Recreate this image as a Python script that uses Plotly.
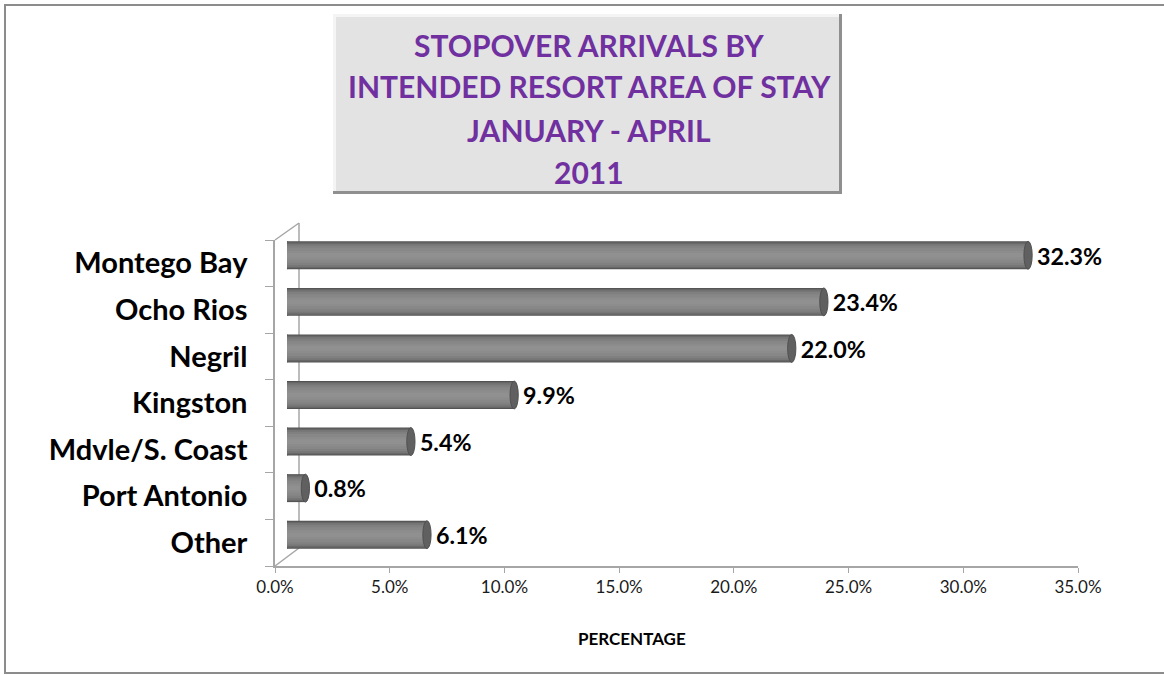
import plotly.graph_objects as go

categories = ["Montego Bay", "Ocho Rios", "Negril", "Kingston", "Mdvle/S. Coast", "Port Antonio", "Other"]
values = [32.3, 23.4, 22.0, 9.9, 5.4, 0.8, 6.1]
x_ticks = [0, 5, 10, 15, 20, 25, 30, 35]
title_lines = ["STOPOVER ARRIVALS BY", "INTENDED RESORT AREA OF STAY", "JANUARY - APRIL", "2011"]

W, H = 1164, 675
def px(x):
    return x / W
def py(y):
    return (H - y) / H

# front axis geometry (pixels)
X0, X1 = 275, 1078
YT, YB = 240, 566
DX, DY = 12, 8  # 3D depth offset of bars

fig = go.Figure()

# invisible trace to drive the front axes
fig.add_trace(go.Bar(x=[0] * len(categories), y=categories, orientation="h",
                     xaxis="x", yaxis="y", marker=dict(opacity=0),
                     showlegend=False, hoverinfo="skip"))

layers = [(0.60, "#525252"), (0.56, "#666666"), (0.50, "#767676"),
          (0.42, "#808080"), (0.32, "#878787"), (0.20, "#8c8c8c"), (0.10, "#909090")]
for i, (w, c) in enumerate(layers):
    fig.add_trace(go.Bar(
        x=values, y=categories, orientation="h", width=w,
        marker=dict(color=c, line=dict(width=0)),
        xaxis="x2", yaxis="y2", showlegend=False,
        texttemplate=" <b>%{x:.1f}%</b>" if i == 0 else None,
        textposition="outside" if i == 0 else "none",
        textfont=dict(family="Lato", size=25, color="#000000"),
        cliponaxis=False,
        hovertemplate="%{y}: %{x:.1f}%<extra></extra>" if i == 0 else None,
        hoverinfo=None if i == 0 else "skip",
    ))

shapes = []
# caps on each cylinder
for i, v in enumerate(values):
    shapes.append(dict(type="circle", xref="x2", yref="y2", layer="below",
                       x0=-0.24, x1=0.24, y0=i - 0.3, y1=i + 0.3,
                       fillcolor="#6e6e6e", line=dict(width=0)))
    shapes.append(dict(type="circle", xref="x2", yref="y2", layer="above",
                       x0=v - 0.18, x1=v + 0.18, y0=i - 0.3, y1=i + 0.3,
                       fillcolor="#606060", line=dict(color="#505050", width=1)))

axcol = "#a6a6a6"
# 3D wall lines
shapes += [
    dict(type="line", xref="paper", yref="paper", x0=px(X0 + 2 * DX), x1=px(X0 + 2 * DX),
         y0=py(YT - 2 * DY - 1), y1=py(YB - 2 * DY - 2), line=dict(color=axcol, width=1.5), layer="below"),
    dict(type="line", xref="paper", yref="paper", x0=px(X0), x1=px(X0 + 2 * DX),
         y0=py(YT), y1=py(YT - 2 * DY - 1), line=dict(color=axcol, width=1.5), layer="below"),
    dict(type="line", xref="paper", yref="paper", x0=px(X0), x1=px(X0 + 2 * DX),
         y0=py(YB), y1=py(YB - 2 * DY - 2), line=dict(color=axcol, width=1.5), layer="below"),
]
# outer border
shapes.append(dict(type="rect", xref="paper", yref="paper", x0=px(5), x1=px(1166), y0=py(673), y1=py(5),
                   line=dict(color="#8c8c8c", width=2), fillcolor="rgba(0,0,0,0)"))
# title box with bevel
shapes += [
    dict(type="rect", xref="paper", yref="paper", x0=px(333), x1=px(842), y0=py(194), y1=py(14),
         fillcolor="#8f8f8f", line=dict(width=0)),
    dict(type="rect", xref="paper", yref="paper", x0=px(333), x1=px(839), y0=py(191), y1=py(14),
         fillcolor="#f4f4f4", line=dict(width=0)),
    dict(type="rect", xref="paper", yref="paper", x0=px(336), x1=px(839), y0=py(191), y1=py(17),
         fillcolor="#e3e3e3", line=dict(width=0)),
]

title_y = [45, 86, 130, 172]
annotations = [
    dict(text=f"<b>{l}</b>", xref="paper", yref="paper", x=px(589), y=py(yy),
         xanchor="center", yanchor="middle", showarrow=False,
         font=dict(family="Lato", size=30, color="#7030A0"))
    for l, yy in zip(title_lines, title_y)
]
annotations.append(dict(text="<b>PERCENTAGE</b>", xref="paper", yref="paper", x=px(632), y=py(638),
                        xanchor="center", yanchor="middle", showarrow=False,
                        font=dict(family="Lato", size=17, color="#000000")))

fig.update_layout(
    width=W, height=H,
    margin=dict(l=0, r=0, t=0, b=0, autoexpand=False),
    paper_bgcolor="#ffffff", plot_bgcolor="rgba(0,0,0,0)",
    barmode="overlay",
    showlegend=False,
    font=dict(family="Lato", color="#000000"),
    xaxis=dict(domain=[px(X0), px(X1)], range=[0, 35], tickvals=x_ticks,
               ticktext=[f"{t:.1f}%" for t in x_ticks], automargin=False,
               showgrid=False, zeroline=False, showline=True, linecolor=axcol, linewidth=1.5,
               ticks="outside", ticklen=5, tickcolor=axcol,
               tickfont=dict(family="Lato", size=17, color="#1a1a1a"), anchor="y"),
    yaxis=dict(domain=[py(YB), py(YT)], type="category", categoryorder="array",
               categoryarray=categories, autorange="reversed", automargin=False,
               tickvals=categories, ticktext=[f"<b>{c}</b>" for c in categories],
               showgrid=False, zeroline=False, showline=True, linecolor=axcol, linewidth=1.5,
               ticks="outside", ticklen=8, tickcolor=axcol, tickson="boundaries",
               tickfont=dict(family="Lato", size=29, color="#000000"), ticklabelstandoff=20,
               anchor="x"),
    xaxis2=dict(domain=[px(X0 + DX), px(X1 + DX)], range=[0, 35], visible=False,
                anchor="y2", automargin=False),
    yaxis2=dict(domain=[py(YB - DY), py(YT - DY)], type="category", categoryorder="array",
                categoryarray=categories, autorange="reversed", visible=False,
                anchor="x2", automargin=False),
    shapes=shapes,
    annotations=annotations,
)

fig.write_html("out.html", config={"displayModeBar": False},
               post_script="document.body.style.margin='0';document.body.style.overflow='hidden';")
